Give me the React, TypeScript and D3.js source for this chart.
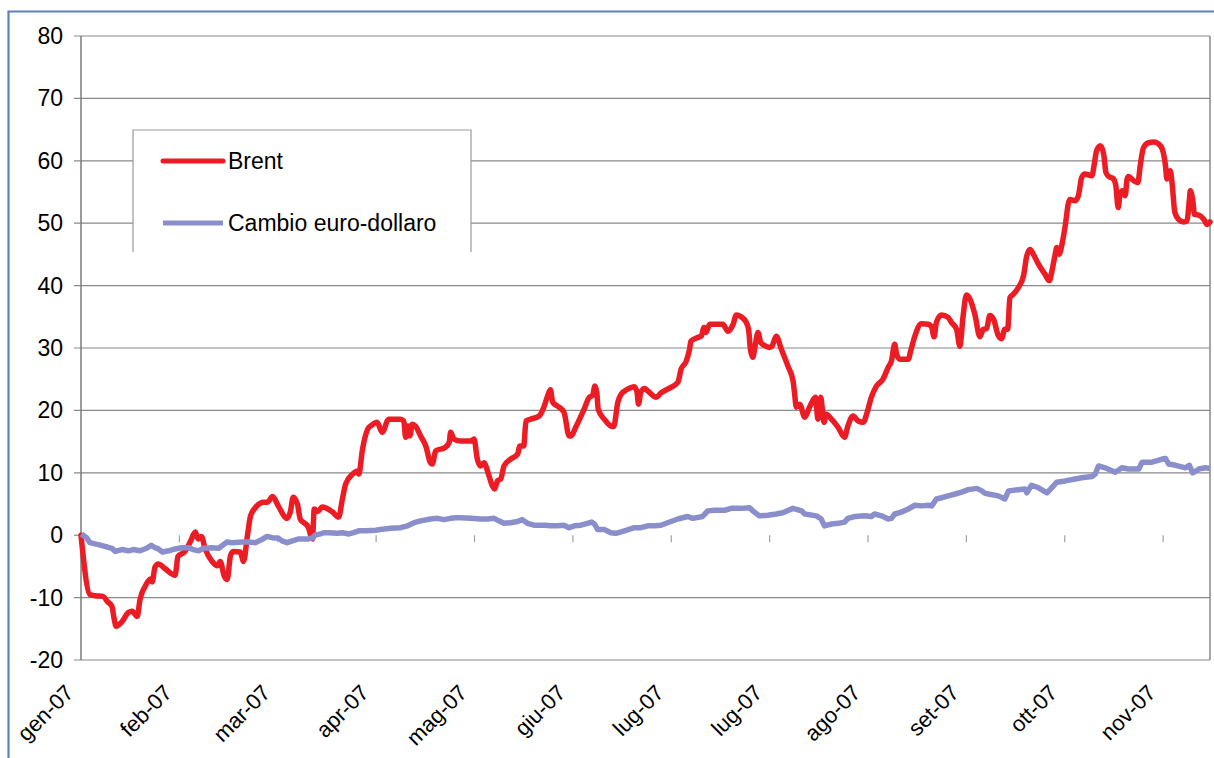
import React from "react";
import * as d3 from "d3";

// Trading-day index (x) and percentage change (y)
const brent: [number, number][] = [
  [0, 0], [1.9, -9.5], [3.0, -9.7], [4.7, -9.8], [5.6, -10.6], [6.6, -11.4], [7.1, -13.5], [7.5, -14.6],
  [8.8, -13.8], [10.1, -12.4], [10.9, -12.2], [12.0, -13.0], [12.6, -10.3], [13.7, -8.2], [14.8, -7.0],
  [15.2, -7.5], [15.8, -5.1], [16.5, -4.6], [18.0, -5.4], [20.1, -6.4], [20.7, -3.4], [22.2, -2.6],
  [23.3, -1.1], [24.4, 0.5], [25.0, -0.6], [25.7, -0.2], [26.5, -2.2], [28.0, -4.2], [29.1, -4.9],
  [29.7, -4.2], [30.6, -6.6], [31.2, -7.1], [31.9, -3.3], [32.5, -2.6], [34.0, -2.7], [34.7, -4.2],
  [35.5, -0.2], [36.2, 3.1], [37.2, 4.4], [39.0, 5.3], [39.8, 5.3], [40.9, 6.2], [42.1, 4.7], [44.0, 2.7],
  [44.7, 3.8], [45.3, 6.1], [46.2, 5.0], [46.8, 2.6], [48.5, 1.3], [49.4, -0.6], [49.8, 4.2], [50.5, 3.8],
  [51.5, 4.5], [53.7, 3.7], [55.0, 2.9], [55.8, 5.8], [56.5, 8.2], [58.0, 9.8], [59.0, 10.3], [59.3, 9.8],
  [60.1, 13.8], [61.2, 17.0], [62.0, 17.6], [63.2, 18.1], [64.3, 16.5], [65.7, 18.6], [68.2, 18.6],
  [68.9, 18.3], [69.3, 15.7], [69.8, 17.5], [70.2, 15.9], [70.7, 17.8], [71.4, 17.5], [72.5, 15.9],
  [73.6, 14.3], [74.6, 11.6], [75.0, 11.4], [75.7, 13.5], [77.8, 14.1], [78.6, 14.9], [78.9, 16.5],
  [79.6, 15.4], [81.1, 15.1], [83.2, 15.1], [83.9, 15.4], [84.6, 12.2], [85.3, 11.1], [86.0, 11.6],
  [87.1, 9.5], [87.8, 7.9], [88.3, 7.4], [88.9, 8.7], [89.6, 9.0], [90.3, 11.1], [91.7, 12.2], [93.2, 13.0],
  [93.7, 14.3], [94.5, 14.3], [95.0, 18.3], [96.0, 18.6], [97.8, 19.1], [98.9, 20.7], [99.6, 22.3],
  [100.2, 23.3], [100.7, 21.3], [101.7, 20.7], [103.1, 19.7], [104.2, 15.9], [104.6, 15.9], [105.6, 17.3],
  [107.4, 20.2], [108.5, 22.1], [109.2, 22.4], [109.7, 23.9], [110.1, 22.9], [110.4, 20.2], [111.7, 18.6],
  [113.1, 17.5], [113.7, 17.4], [114.6, 21.3], [115.3, 22.6], [116.7, 23.4], [118.1, 23.8], [118.7, 22.9],
  [119.0, 21.0], [119.5, 22.9], [120.3, 23.5], [121.0, 23.1], [122.8, 22.1], [123.8, 22.8], [125.2, 23.4],
  [127.4, 24.5], [128.1, 26.6], [129.2, 27.9], [129.9, 29.8], [130.2, 31.1], [131.7, 31.7], [132.4, 31.9],
  [133.0, 33.3], [133.4, 32.5], [134.2, 33.8], [137.0, 33.8], [138.1, 32.7], [139.2, 33.8], [139.9, 35.3],
  [140.9, 35.0], [142.0, 34.1], [142.5, 33.0], [142.9, 29.8], [143.4, 28.5], [143.9, 30.3], [144.5, 32.5],
  [145.1, 30.9], [145.9, 30.4], [147.0, 30.1], [147.5, 30.3], [148.4, 31.9], [149.5, 29.8], [150.9, 27.1],
  [152.0, 24.7], [152.3, 22.9], [152.7, 20.5], [153.4, 21.0], [154.5, 18.9], [155.5, 20.5], [156.8, 22.1],
  [157.3, 18.6], [157.9, 22.1], [158.6, 18.1], [159.1, 19.4], [160.2, 18.6], [161.6, 17.3], [163.0, 15.7],
  [163.7, 17.5], [164.8, 19.1], [165.9, 18.3], [167.0, 18.1], [167.7, 19.4], [168.7, 22.1], [169.8, 23.9],
  [171.2, 25.0], [172.3, 26.9], [173.0, 27.9], [173.7, 30.6], [174.1, 29.0], [174.8, 28.2], [176.6, 28.2],
  [177.1, 29.5], [178.0, 31.9], [179.4, 33.9], [180.9, 33.8], [181.6, 33.3], [182.1, 31.8], [182.6, 34.1],
  [183.7, 35.3], [185.1, 34.9], [185.8, 34.1], [186.9, 33.0], [187.6, 30.3], [188.3, 35.1], [189.0, 38.5],
  [189.8, 37.8], [190.8, 35.4], [191.9, 31.8], [192.6, 33.0], [193.3, 33.1], [194.0, 35.2], [194.8, 34.6],
  [195.8, 32.0], [196.5, 31.5], [197.2, 33.0], [197.8, 33.0], [198.3, 38.1], [199.0, 38.6], [200.1, 39.7],
  [201.2, 41.6], [201.9, 44.8], [202.6, 45.8], [203.3, 45.0], [204.4, 43.4], [205.8, 41.8], [206.7, 40.8],
  [207.2, 42.1], [207.9, 44.8], [208.3, 46.1], [208.8, 45.0], [209.4, 46.6], [210.1, 49.6], [210.8, 53.3],
  [211.1, 53.8], [212.2, 53.6], [212.9, 54.4], [213.6, 57.3], [214.3, 57.9], [215.8, 57.6], [216.3, 59.5],
  [216.8, 61.6], [217.6, 62.4], [218.3, 61.1], [218.8, 58.1], [219.4, 57.5], [220.4, 57.1], [220.9, 56.0],
  [221.4, 52.5], [221.8, 54.6], [222.3, 55.2], [222.9, 54.4], [223.3, 57.1], [223.6, 57.5], [224.7, 56.8],
  [225.6, 56.5], [226.1, 59.2], [226.8, 62.1], [227.9, 62.9], [229.0, 63.0], [230.0, 62.7], [230.8, 61.9],
  [231.5, 59.2], [231.8, 57.1], [232.2, 57.6], [232.5, 58.4], [232.9, 56.5], [233.5, 51.7], [234.3, 50.6],
  [235.4, 50.2], [236.1, 50.4], [236.6, 53.8], [236.8, 55.2], [237.3, 53.8], [237.7, 51.4], [238.6, 51.3],
  [239.7, 50.6], [240.4, 49.8], [241.0, 50.2],
];

const cambio: [number, number][] = [
  [0.1, 0.2], [1.2, -0.4], [1.9, -1.2], [3.7, -1.5], [5.1, -1.8], [6.6, -2.1], [7.3, -2.6], [8.7, -2.3],
  [10.1, -2.5], [11.2, -2.3], [12.6, -2.5], [14.0, -2.1], [15.0, -1.6], [15.8, -2.0], [16.5, -2.2],
  [17.4, -2.7], [18.7, -2.5], [20.1, -2.2], [21.5, -2.0], [22.9, -2.0], [24.0, -2.3], [25.1, -2.5],
  [26.2, -2.1], [27.9, -2.0], [29.4, -2.1], [30.1, -1.7], [31.2, -1.1], [32.2, -1.2], [34.4, -1.1],
  [35.8, -1.1], [37.2, -1.2], [38.6, -0.7], [39.7, -0.2], [40.8, -0.4], [42.2, -0.5], [42.9, -0.9],
  [44.0, -1.2], [45.1, -0.9], [46.5, -0.6], [48.6, -0.6], [49.5, -0.4], [50.0, 0.0], [51.1, 0.2],
  [51.8, 0.4], [52.9, 0.4], [54.7, 0.3], [55.8, 0.4], [57.2, 0.2], [58.2, 0.4], [59.3, 0.7], [60.7, 0.7],
  [62.9, 0.8], [63.9, 0.9], [66.1, 1.1], [68.2, 1.2], [69.7, 1.5], [71.1, 2.0], [72.5, 2.3], [74.6, 2.6],
  [76.1, 2.7], [77.5, 2.5], [78.9, 2.7], [80.0, 2.8], [81.1, 2.8], [83.2, 2.7], [85.3, 2.6], [86.8, 2.6],
  [88.2, 2.7], [89.2, 2.3], [90.3, 1.9], [91.7, 2.0], [93.2, 2.2], [94.2, 2.5], [95.3, 1.9], [96.7, 1.6],
  [98.9, 1.6], [100.3, 1.5], [101.7, 1.5], [103.1, 1.6], [104.2, 1.2], [105.3, 1.5], [106.7, 1.6],
  [108.1, 1.9], [109.0, 2.1], [109.6, 1.8], [110.3, 0.9], [111.7, 0.9], [113.1, 0.4], [114.2, 0.3],
  [116.0, 0.7], [118.1, 1.2], [119.5, 1.2], [121.0, 1.5], [122.4, 1.5], [123.8, 1.6], [125.2, 2.0],
  [127.4, 2.6], [129.5, 3.0], [130.6, 2.7], [132.7, 3.0], [133.8, 3.9], [135.2, 4.0], [137.4, 4.0],
  [138.8, 4.3], [140.9, 4.3], [142.7, 4.4], [143.4, 3.9], [144.8, 3.1], [146.6, 3.2], [148.4, 3.4],
  [149.8, 3.6], [152.0, 4.3], [153.8, 3.9], [154.5, 3.4], [157.0, 3.1], [158.0, 2.6], [158.7, 1.5],
  [160.2, 1.8], [161.6, 1.9], [163.0, 2.1], [163.7, 2.7], [165.2, 3.0], [167.3, 3.1], [168.7, 3.0],
  [169.4, 3.4], [170.9, 3.1], [172.3, 2.6], [173.0, 2.7], [173.7, 3.4], [175.1, 3.7], [176.6, 4.2],
  [178.0, 4.8], [179.4, 4.7], [180.9, 4.8], [181.6, 4.7], [182.6, 5.8], [183.7, 6.0], [185.1, 6.3],
  [186.6, 6.6], [188.0, 6.9], [189.4, 7.3], [191.2, 7.5], [192.3, 7.1], [193.0, 6.7], [193.7, 6.6],
  [195.8, 6.3], [197.2, 5.8], [198.0, 7.1], [200.1, 7.3], [201.5, 7.4], [201.9, 6.8], [202.9, 8.0],
  [204.4, 7.6], [206.2, 6.8], [207.2, 7.6], [208.3, 8.5], [210.1, 8.7], [212.2, 9.0], [213.6, 9.2],
  [215.8, 9.4], [216.5, 9.8], [217.2, 11.1], [218.6, 10.8], [220.8, 10.1], [222.2, 10.8], [223.6, 10.6],
  [225.8, 10.6], [226.5, 11.7], [228.6, 11.7], [230.8, 12.2], [231.5, 12.3], [232.2, 11.4], [233.7, 11.2],
  [235.8, 10.8], [236.6, 11.2], [237.3, 10.0], [238.0, 10.3], [238.6, 10.6], [240.0, 10.8], [241.0, 10.7],
];

const monthLabels = [
  "gen-07", "feb-07", "mar-07", "apr-07", "mag-07", "giu-07",
  "lug-07", "lug-07", "ago-07", "set-07", "ott-07", "nov-07",
];
const labelStep = 21;
const yTicks = [-20, -10, 0, 10, 20, 30, 40, 50, 60, 70, 80];
const seriesNames = ["Brent", "Cambio euro-dollaro"];

const FONT = "'Liberation Sans', Arial, sans-serif";
const RED = "#ec1c24";
const BLUE = "#8a8fcc";
const GRID = "#8a8a8a";

export default function App() {
  const left = 81, right = 1210, top = 36, bottom = 660;
  const x = d3.scaleLinear().domain([0, 241]).range([left, right]);
  const y = d3.scaleLinear().domain([-20, 80]).range([bottom, top]);

  const redLine = d3.line<[number, number]>()
    .x((d) => x(d[0]))
    .y((d) => y(d[1]))
    .curve(d3.curveMonotoneX);
  const blueLine = d3.line<[number, number]>()
    .x((d) => x(d[0]))
    .y((d) => y(d[1]));

  const legend = { x0: 133, x1: 471, y0: 130, y1: 252 };

  return (
    <svg
      width={1214}
      height={758}
      style={{ position: "absolute", left: 0, top: 0, display: "block", background: "#fff" }}
    >
      {/* outer frame */}
      <path d="M8.5,758 L8.5,11.5 L1214,11.5" fill="none" stroke="#5a82bb" strokeWidth={2.2} />

      {/* gridlines */}
      {yTicks.filter((t) => t !== 0).map((t) => (
        <line key={"g" + t} x1={left - 7} x2={right} y1={y(t)} y2={y(t)} stroke={GRID} strokeWidth={1.2} />
      ))}
      <line x1={left - 7} x2={left} y1={y(0)} y2={y(0)} stroke={GRID} strokeWidth={1.2} />
      {/* right border */}
      <line x1={right} x2={right} y1={top} y2={bottom} stroke={GRID} strokeWidth={1.5} />
      {/* left axis */}
      <line x1={left} x2={left} y1={top} y2={bottom} stroke="#7a7a7a" strokeWidth={1.5} />

      {/* x ticks at zero line */}
      {monthLabels.map((_, i) =>
        i === 0 ? null : (
          <line key={"xt" + i} x1={x(i * labelStep)} x2={x(i * labelStep)} y1={y(0)} y2={y(0) + 7}
            stroke="#a0a0a0" strokeWidth={1.2} />
        )
      )}

      {/* y labels */}
      {yTicks.map((t) => (
        <text key={"yl" + t} x={63} y={y(t)} textAnchor="end" dominantBaseline="central"
          fontFamily={FONT} fontSize={23} fill="#000">{t}</text>
      ))}

      {/* x labels */}
      {monthLabels.map((m, i) => {
        const tx = x(i * labelStep) - 6;
        const ty = 694;
        return (
          <text key={"xl" + i} x={tx} y={ty} transform={`rotate(-45 ${tx} ${ty})`} textAnchor="end"
            fontFamily={FONT} fontSize={22} fill="#000">{m}</text>
        );
      })}

      {/* legend */}
      <rect x={legend.x0} y={legend.y0} width={legend.x1 - legend.x0} height={legend.y1 - legend.y0} fill="#fff" />
      <path d={`M${legend.x0},${legend.y1} L${legend.x0},${legend.y0} L${legend.x1},${legend.y0} L${legend.x1},${legend.y1}`}
        fill="none" stroke="#9a9a9a" strokeWidth={1.2} />
      <line x1={163} x2={223} y1={161} y2={161} stroke={RED} strokeWidth={5} strokeLinecap="round" />
      <text x={228} y={161} dominantBaseline="central" fontFamily={FONT} fontSize={23}>{seriesNames[0]}</text>
      <line x1={163} x2={223} y1={223} y2={223} stroke={BLUE} strokeWidth={5} />
      <text x={228} y={223} dominantBaseline="central" fontFamily={FONT} fontSize={23}>{seriesNames[1]}</text>

      {/* series */}
      <path d={redLine(brent) || ""} fill="none" stroke={RED} strokeWidth={5.5} strokeLinejoin="round" strokeLinecap="round" />
      <path d={blueLine(cambio) || ""} fill="none" stroke={BLUE} strokeWidth={5.5} strokeLinejoin="round" />
    </svg>
  );
}
